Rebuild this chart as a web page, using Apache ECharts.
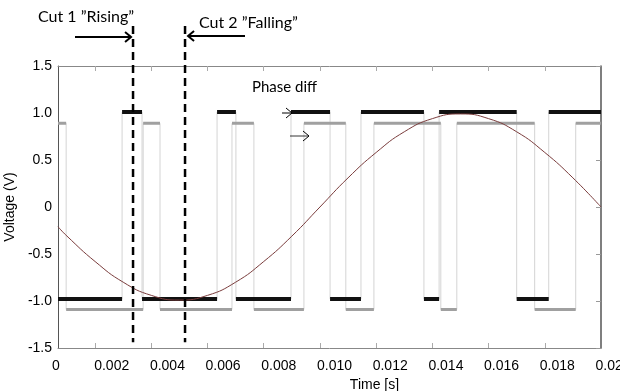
<!DOCTYPE html>
<html>
<head>
<meta charset="utf-8">
<script src="https://cdn.jsdelivr.net/npm/echarts@6.0.0/dist/echarts.min.js"></script>
<style>
  html, body { margin: 0; padding: 0; background: #fff; }
  #chart { width: 620px; height: 391px; }
</style>
</head>
<body>
<div id="chart"></div>
<script>
  // time in seconds, the plotted window starts a little after t = 0
  const tStart = 0.00068
  const tEnd = 0.020
  const tickValues = [0.002, 0.004, 0.006, 0.008, 0.010, 0.012, 0.014, 0.016, 0.018]
  const xLabelValues = [0, 0.002, 0.004, 0.006, 0.008, 0.010, 0.012, 0.014, 0.016, 0.018, 0.020]

  // reference sine, every 1 ms
  const sineTimes = [0.00068, 0.001, 0.002, 0.003, 0.004, 0.005, 0.006, 0.007, 0.008, 0.009, 0.010,
    0.011, 0.012, 0.013, 0.014, 0.015, 0.016, 0.017, 0.018, 0.019, 0.020]
  const sineValues = [-0.21, -0.31, -0.58, -0.80, -0.94, -0.99, -0.94, -0.80, -0.58, -0.31, 0,
    0.31, 0.58, 0.80, 0.94, 0.99, 0.94, 0.80, 0.58, 0.31, 0]

  // square traces: [high, low] levels and switching times
  const blackLevels = [1.01, -0.98]
  const blackStartsHigh = false
  const blackEdges = [0.00296, 0.00367, 0.00634, 0.00701, 0.00897, 0.01036, 0.01146, 0.01370, 0.01424, 0.01700, 0.01814]
  const grayLevels = [0.89, -1.09]
  const grayStartsHigh = true
  const grayEdges = [0.00097, 0.00371, 0.00431, 0.00687, 0.00765, 0.00943, 0.01092, 0.01192, 0.01430, 0.01487, 0.01764, 0.01910]

  // the two cut positions
  const cutTimes = [0.00335, 0.0052]

  const labelFont = 'Liberation Sans'
  const noteFont = 'Lato'

  const buildStep = (edges, levels, startsHigh) => {
    const steps = []
    const plateaus = []
    let high = startsHigh
    let from = tStart
    ;[...edges, tEnd].forEach(t => {
      const v = high ? levels[0] : levels[1]
      steps.push([from, v], [t, v])
      plateaus.push([from, v], [t, v], [t, '-'])
      high = !high
      from = t
    })
    return {steps, plateaus}
  }

  const black = buildStep(blackEdges, blackLevels, blackStartsHigh)
  const gray = buildStep(grayEdges, grayLevels, grayStartsHigh)
  const sine = sineTimes.map((t, i) => [t, sineValues[i]])

  const chart = echarts.init(document.getElementById('chart'), null, {renderer: 'canvas'})

  const option = {
    animation: false,
    backgroundColor: '#fff',
    grid: [
      {left: 58, right: 19, top: 66, bottom: 43, outerBoundsMode: 'none'},
      {left: 56, right: 7, top: 66, bottom: 43, outerBoundsMode: 'none'},
    ],
    xAxis: [
      {
        type: 'value', gridIndex: 0, position: 'bottom', min: tStart, max: tEnd,
        axisLine: {onZero: false, lineStyle: {color: '#888', width: 1}},
        axisTick: {inside: true, length: 5, customValues: tickValues, lineStyle: {color: '#aaa'}},
        axisLabel: {show: false},
        splitLine: {show: false},
      },
      {
        type: 'value', gridIndex: 0, position: 'top', min: tStart, max: tEnd,
        axisLine: {show: true, onZero: false, lineStyle: {color: '#888', width: 1}},
        axisTick: {inside: true, length: 5, customValues: tickValues, lineStyle: {color: '#aaa'}},
        axisLabel: {show: false},
        splitLine: {show: false},
      },
      {
        type: 'value', gridIndex: 1, min: 0, max: 0.020, interval: 0.002,
        axisLine: {show: false, onZero: false},
        axisTick: {show: false},
        splitLine: {show: false},
        axisLabel: {
          margin: 11, color: '#000', fontFamily: labelFont, fontSize: 14,
          customValues: xLabelValues,
          formatter: v => v === 0 ? '0' : v.toFixed(3),
        },
        name: 'Time [s]',
        nameLocation: 'middle',
        nameGap: 29,
        nameTextStyle: {color: '#000', fontFamily: labelFont, fontSize: 14, padding: [0, 0, 0, 80]},
      },
    ],
    yAxis: [
      {
        type: 'value', gridIndex: 0, position: 'left', min: -1.5, max: 1.5, interval: 0.5,
        axisLine: {show: true, onZero: false, lineStyle: {color: '#555', width: 1}},
        axisTick: {show: false},
        splitLine: {show: false},
        axisLabel: {
          margin: 6, color: '#000', fontFamily: labelFont, fontSize: 14, padding: [6, 0, 0, 0],
          formatter: v => v === 0 ? '0' : v.toFixed(1),
        },
        name: 'Voltage (V)',
        nameLocation: 'middle',
        nameGap: 38,
        nameTextStyle: {color: '#000', fontFamily: labelFont, fontSize: 14},
      },
      {
        type: 'value', gridIndex: 0, position: 'right', min: -1.5, max: 1.5, interval: 0.5,
        axisLine: {show: true, onZero: false, lineStyle: {color: '#555', width: 1.5}},
        axisTick: {inside: true, length: 5, lineStyle: {color: '#999'}},
        axisLabel: {show: false},
        splitLine: {show: false},
      },
      {type: 'value', gridIndex: 1, min: -1.5, max: 1.5, show: false},
    ],
    series: [
      {
        name: 'gray edges', type: 'line', xAxisIndex: 0, yAxisIndex: 0, data: gray.steps,
        showSymbol: false, lineStyle: {color: '#d4d4d4', width: 1},
      },
      {
        name: 'black edges', type: 'line', xAxisIndex: 0, yAxisIndex: 0, data: black.steps,
        showSymbol: false, lineStyle: {color: '#d4d4d4', width: 1},
      },
      {
        name: 'gray', type: 'line', xAxisIndex: 0, yAxisIndex: 0, data: gray.plateaus,
        showSymbol: false, connectNulls: false, lineStyle: {color: '#a0a0a0', width: 3},
      },
      {
        name: 'black', type: 'line', xAxisIndex: 0, yAxisIndex: 0, data: black.plateaus,
        showSymbol: false, connectNulls: false, lineStyle: {color: '#111', width: 4},
      },
      {
        name: 'sine', type: 'line', xAxisIndex: 0, yAxisIndex: 0, data: sine,
        showSymbol: false, smooth: true, lineStyle: {color: '#7a3c3c', width: 1},
      },
    ],
  }

  chart.setOption(option)

  // cut markers and notes, placed from the axis scale
  const cutX = cutTimes.map(t => chart.convertToPixel({xAxisIndex: 0}, t))
  const bottomY = chart.convertToPixel({yAxisIndex: 0}, -1.44)
  const arrowY = 37

  const dashed = x => ({
    type: 'line', shape: {x1: x, y1: 26, x2: x, y2: bottomY},
    style: {stroke: '#000', lineWidth: 2.5, lineDash: [8, 5]}, z: 100,
  })
  const arrow = (x1, x2, y, w, open) => {
    const d = x2 > x1 ? -6 : 6
    return [
      {type: 'line', shape: {x1, y1: y, x2, y2: y}, style: {stroke: '#000', lineWidth: w}, z: 100},
      {
        type: 'polyline', shape: {points: [[x2 + d, y - 5], [x2, y], [x2 + d, y + 5]]},
        style: {stroke: '#000', lineWidth: open ? 1 : w, fill: null}, z: 100,
      },
    ]
  }

  chart.setOption({
    graphic: [
      dashed(cutX[0]),
      dashed(cutX[1]),
      ...arrow(75, cutX[0] - 2, arrowY, 2, false),
      ...arrow(245, cutX[1] + 3, arrowY - 1, 2, false),
      ...arrow(282, 292, 113, 1, false),
      ...arrow(290, 309, 136, 0.8, true),
      {
        type: 'text', left: 38, top: 9, z: 100,
        style: {text: 'Cut 1 ”Rising”', font: `16px ${noteFont}`, fill: '#000'},
      },
      {
        type: 'text', left: 199, top: 15, z: 100,
        style: {text: 'Cut 2 ”Falling”', font: `16px ${noteFont}`, fill: '#000'},
      },
      {
        type: 'text', left: 252, top: 80, z: 100,
        style: {text: 'Phase diff', font: `15px ${noteFont}`, fill: '#000'},
      },
    ],
  })
</script>
</body>
</html>
